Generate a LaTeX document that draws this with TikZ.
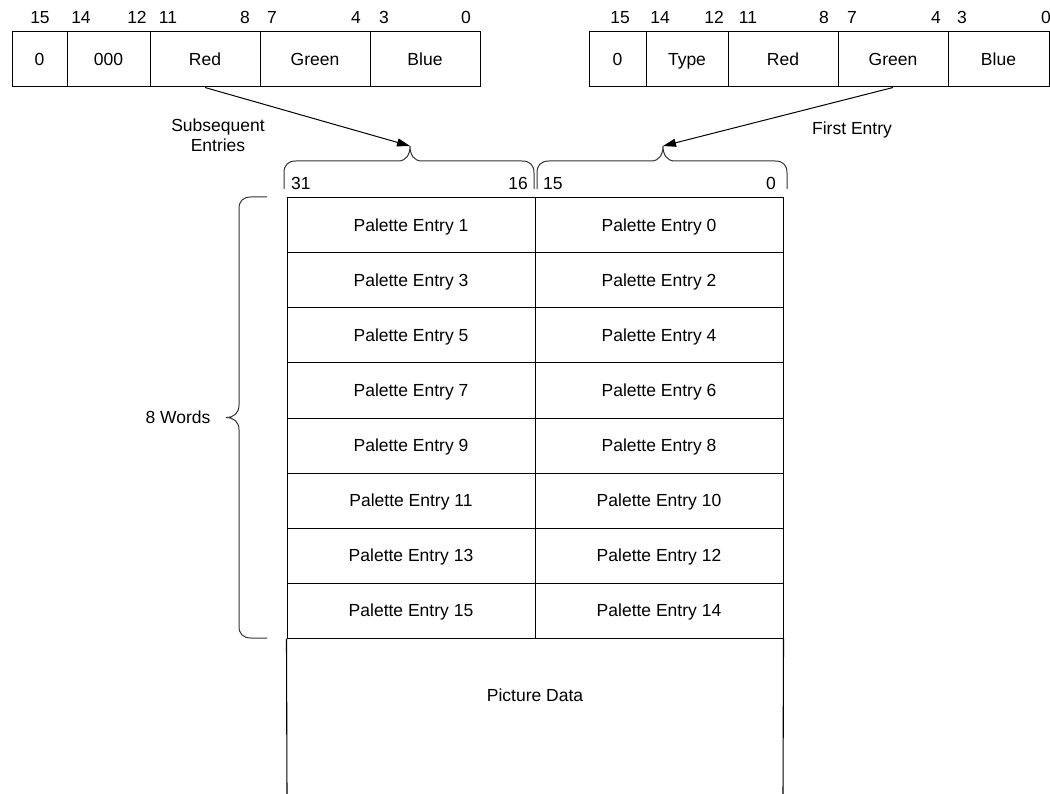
\documentclass[tikz,border=0pt]{standalone}
\usepackage{fontspec}
\setmainfont{Liberation Sans}
\usetikzlibrary{arrows.meta}
\begin{document}
\begin{tikzpicture}[x=1pt,y=-1pt,
  every node/.style={font=\fontsize{17.5}{21}\selectfont, inner sep=0pt, text height=12.5pt, text depth=0pt},
  cell/.style={draw=black, line width=1pt, minimum height=55pt},
  entry/.style={cell, minimum width=248pt},
  bitnum/.style={},
  bracepath/.style={draw=black!80, line width=1pt},
  conn/.style={draw=black, line width=1pt, -{Triangle[length=13pt,width=8pt]}}]
\useasboundingbox (0,0) rectangle (1050,794);
% ---- left register
\node[cell, minimum width=55pt]  (la) at (39.5,59.5) {0};
\node[cell, minimum width=83pt]  (lb) at (108.5,59.5) {000};
\node[cell, minimum width=110pt] (lc) at (205,59.5) {Red};
\node[cell, minimum width=110pt] (ld) at (315,59.5) {Green};
\node[cell, minimum width=110pt] (le) at (425,59.5) {Blue};
\foreach \x/\t [count=\i] in {40/15,81/14,137/12,168/11,245/8,272/7,356/4,384/3,466/0}
  \node[bitnum] (lbit\i) at (\x,17) {\t};
% ---- right register
\node[cell, minimum width=57pt]  (ra) at (617.5,59.5) {0};
\node[cell, minimum width=82pt]  (rb) at (687,59.5) {Type};
\node[cell, minimum width=110pt] (rc) at (783,59.5) {Red};
\node[cell, minimum width=110pt] (rd) at (893,59.5) {Green};
\node[cell, minimum width=101pt] (re) at (998.5,59.5) {Blue};
\foreach \x/\t [count=\i] in {620/15,660/14,714/12,748/11,824/8,852/7,936/4,962/3,1046/0}
  \node[bitnum] (rbit\i) at (\x,17) {\t};
% ---- labels
\node[align=center, text height=, text depth=] (subs) at (218,135) {Subsequent\\[-1pt]Entries};
\node (first) at (852,128) {First Entry};
% ---- top braces
\coordinate (tipL) at (410,146);
\coordinate (tipR) at (663,146);
\draw[bracepath] (284,189) -- (284,173) .. controls (284,165) and (288,161) .. (296,161)
  -- (398,161) .. controls (406,161) and (410,155) .. (tipL)
  .. controls (410,155) and (414,161) .. (422,161) -- (522,161)
  .. controls (530,161) and (534,165) .. (534,173) -- (534,189);
\draw[bracepath] (537,189) -- (537,173) .. controls (537,165) and (541,161) .. (549,161)
  -- (651,161) .. controls (659,161) and (663,155) .. (tipR)
  .. controls (663,155) and (667,161) .. (675,161) -- (775,161)
  .. controls (783,161) and (787,165) .. (787,173) -- (787,189);
\node[anchor=west] (b31) at (291,183) {31};
\node[anchor=east] (b16) at (528,183) {16};
\node[anchor=west] (b15) at (543,183) {15};
\node[anchor=east] (b0) at (776,183) {0};
% ---- connectors
\draw[conn] (lc.south) -- (tipL);
\draw[conn] (rd.south) -- (tipR);
% ---- palette table
\foreach \r in {0,...,7}{
  \pgfmathtruncatemacro{\odd}{2*\r+1}
  \pgfmathtruncatemacro{\even}{2*\r}
  \node[entry] (pl\r) at (411,225.5+55*\r) {Palette Entry \odd};
  \node[entry] (pr\r) at (659,225.5+55*\r) {Palette Entry \even};
}
\coordinate (pdL) at (287,800);
\coordinate (pdR) at (783,800);
\draw[line width=1.1pt] (pl7.south west) -- (pdL) (pr7.south east) -- (pdR);
\node (pdata) at (535,695) {Picture Data};
% ---- left brace
\draw[bracepath] (267,197) -- (251,197) .. controls (243,197) and (239,201) .. (239,209)
  -- (239,405) .. controls (239,413) and (234,417.5) .. (226,417.5)
  .. controls (234,417.5) and (239,422) .. (239,430) -- (239,626)
  .. controls (239,634) and (243,638) .. (251,638) -- (267,638);
\node (words) at (178,417.5) {8 Words};
\end{tikzpicture}
\end{document}
